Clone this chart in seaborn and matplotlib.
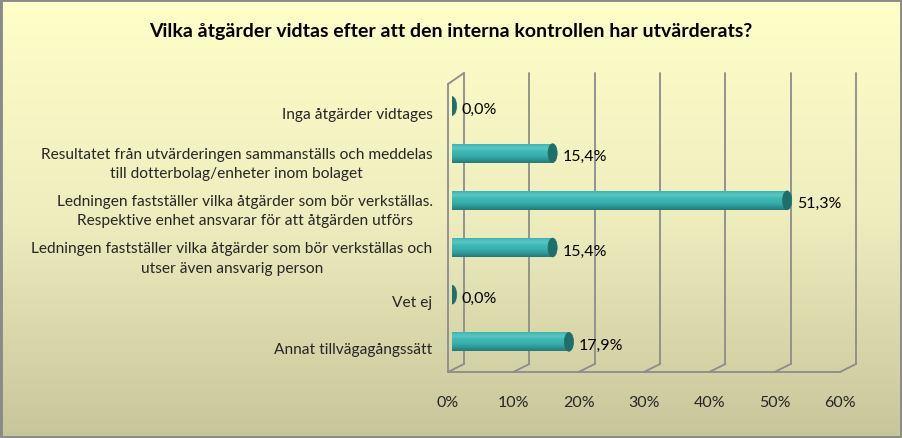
import numpy as np
import pandas as pd
import matplotlib
matplotlib.use("Agg")
import matplotlib.pyplot as plt
import matplotlib.transforms as mtransforms
from matplotlib.colors import LinearSegmentedColormap
from matplotlib.patches import Ellipse, Rectangle
import seaborn as sns

# ---- data ----
categories = [
    "Inga åtgärder vidtages",
    "Resultatet från utvärderingen sammanställs och meddelas\ntill dotterbolag/enheter inom bolaget",
    "Ledningen fastställer vilka åtgärder som bör verkställas.\nRespektive enhet ansvarar för att åtgärden utförs",
    "Ledningen fastställer vilka åtgärder som bör verkställas och\nutser även ansvarig person",
    "Vet ej",
    "Annat tillvägagångssätt",
]
values = [0.0, 15.4, 51.3, 15.4, 0.0, 17.9]
value_labels = ["0,0%", "15,4%", "51,3%", "15,4%", "0,0%", "17,9%"]
xticks = [0, 10, 20, 30, 40, 50, 60]
xtick_labels = ["0%", "10%", "20%", "30%", "40%", "50%", "60%"]
title = "Vilka åtgärder vidtas efter att den interna kontrollen har utvärderats?"

df = pd.DataFrame({"cat": categories, "val": values})

sns.set_style("white")
plt.rcParams["font.family"] = ["Lato", "DejaVu Sans"]

W, H = 902, 439
fig = plt.figure(figsize=(W / 100, H / 100), dpi=100)

# background gradient
bg = fig.add_axes([0, 0, 1, 1], zorder=-10)
bg_cmap = LinearSegmentedColormap.from_list("bg", ["#FFFFC9", "#EEEDBE", "#C7C59A"])
grad = np.linspace(0, 1, 256).reshape(-1, 1)
bg.imshow(grad, aspect="auto", cmap=bg_cmap, extent=[0, 1, 0, 1])
bg.set_axis_off()
bg.add_patch(Rectangle((0, 0), 1, 1, transform=fig.transFigure, fill=False,
                       edgecolor="#8A8A8A", linewidth=3.5, clip_on=False))

# plot axes: x 0..60 maps to pixel 452..844, y back-wall top 74, back floor 365
ax = fig.add_axes([452 / W, 1 - 365 / H, 392 / W, 291 / H])
ax.patch.set_alpha(0)

bar_h = 0.40
sns.barplot(data=df, x="val", y="cat", orient="h", color="#3AB5B2",
            width=bar_h, ax=ax, linewidth=0, saturation=1)
ax.set_xlim(0, 60)
ax.set_ylim(5.47, -0.70)

# cylinder shading on bars
cyl = LinearSegmentedColormap.from_list(
    "cyl", ["#247A78", "#2F9896", "#38B0AD", "#3DB8B5", "#5CC6C3", "#3AB5B2"])
g2 = np.linspace(0, 1, 64).reshape(-1, 1)
for p, v in zip(ax.patches, values):
    y0 = p.get_y()
    hgt = p.get_height()
    if v > 0:
        im = ax.imshow(g2, aspect="auto", cmap=cyl,
                       extent=[0, v, y0, y0 + hgt], zorder=2)
        im.set_clip_path(p)
    # end cap
    ax.add_patch(Ellipse((v, y0 + hgt / 2), 1.4, hgt, facecolor="#1E6E6C",
                         edgecolor="#1E6E6C", linewidth=0.5, zorder=3))
    if v > 0:
        ax.add_patch(Ellipse((0.35, y0 + hgt / 2), 1.2, hgt, facecolor="#2E9593",
                             edgecolor="none", zorder=1.5))

# value labels
lab_off = mtransforms.offset_copy(ax.transData, fig=fig, x=10, y=-3, units="dots")
for i, (v, t) in enumerate(zip(values, value_labels)):
    ax.text(v, i, t, transform=lab_off, ha="left", va="center",
            fontsize=11.5, color="black", zorder=5)

# 3D frame decorations (front offset -4 px / +8 px down, back offset +12 px)
frame_col = "#8C8C8C"
back_tr = mtransforms.blended_transform_factory(ax.transData, ax.transAxes)
back = mtransforms.offset_copy(back_tr, fig=fig, x=12, y=0, units="dots")
tr_f = mtransforms.offset_copy(back_tr, fig=fig, x=-4, y=-8, units="dots")
tr_ft = mtransforms.offset_copy(back_tr, fig=fig, x=-4, y=-11, units="dots")
seg = dict(arrowstyle="-", color=frame_col, lw=1.3, shrinkA=0, shrinkB=0)
for xt in xticks:
    ax.plot([xt, xt], [0, 1], transform=back, color=frame_col, lw=1.3,
            clip_on=False, zorder=0.5)
    ax.annotate("", xy=(xt, 0), xycoords=back, xytext=(xt, 0), textcoords=tr_f,
                arrowprops=seg)
ax.plot([0, 60], [0, 0], transform=tr_f, color=frame_col, lw=1.3, clip_on=False)
ax.annotate("", xy=(0, 0), xycoords=tr_f, xytext=(0, 1), textcoords=tr_ft,
            arrowprops=seg)
ax.annotate("", xy=(0, 1), xycoords=back, xytext=(0, 1), textcoords=tr_ft,
            arrowprops=seg)

# axes styling
for s in ax.spines.values():
    s.set_visible(False)
ax.set_xlabel("")
ax.set_ylabel("")
ax.set_xticks(xticks)
ax.set_xticklabels(xtick_labels, fontsize=11.5)
ax.tick_params(axis="x", length=0, pad=22)
for lbl in ax.get_xticklabels():
    lbl.set_transform(lbl.get_transform() + mtransforms.ScaledTranslation(-4 / 100, 0, fig.dpi_scale_trans))
ax.set_yticks(range(len(categories)))
ax.set_yticklabels(categories, fontsize=11.2, multialignment="center", linespacing=1.5)
ax.tick_params(axis="y", length=0, pad=14)
for lbl in ax.get_yticklabels():
    lbl.set_transform(lbl.get_transform() + mtransforms.ScaledTranslation(0, -6 / 100, fig.dpi_scale_trans))

fig.text(0.5, 1 - 31 / H, title, ha="center", va="center",
         fontsize=14, fontweight="bold", color="black")

fig.savefig("out.png", dpi=100)
